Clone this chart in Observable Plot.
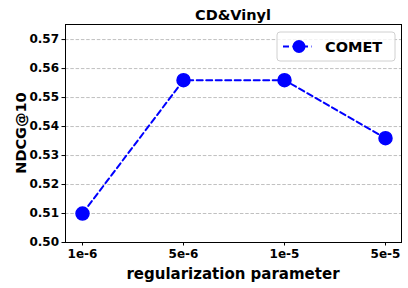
<!DOCTYPE html>
<html>
<head>
<meta charset="utf-8">
<script src="https://cdn.jsdelivr.net/npm/d3@7"></script>
<script src="https://cdn.jsdelivr.net/npm/@observablehq/plot@0.6"></script>
<style>
  html, body { margin: 0; padding: 0; background: #fff; }
  svg { font-family: "DejaVu Sans", sans-serif; }
</style>
</head>
<body>
<div id="chart"></div>
<script>
const categories = ["1e-6", "5e-6", "1e-5", "5e-5"];
const cometValues = [0.510, 0.556, 0.556, 0.536];
const yTicks = [0.50, 0.51, 0.52, 0.53, 0.54, 0.55, 0.56, 0.57];
const seriesName = "COMET";
const title = "CD&Vinyl";
const xLabel = "regularization parameter";
const yLabel = "NDCG@10";

const data = categories.map((c, i) => ({x: c, y: cometValues[i]}));
const blue = "#0000ff";
const W = 408, H = 288, mL = 65, mR = 7, mT = 24, mB = 46;

const chart = Plot.plot({
  width: W, height: H, marginLeft: mL, marginRight: mR, marginTop: mT, marginBottom: mB,
  style: {fontFamily: "DejaVu Sans, sans-serif", fontWeight: "bold", color: "#000", background: "#fff"},
  x: {type: "point", domain: categories, padding: 0.15, label: null},
  y: {domain: [0.50, 0.5752], label: null},
  marks: [
    Plot.gridY(yTicks, {stroke: "#b0b0b0", strokeOpacity: 1, strokeDasharray: "3.5,1.8", strokeWidth: 0.8}),
    Plot.axisY(yTicks, {tickFormat: d3.format(".2f"), tickSize: 3.5, tickPadding: 3, fontSize: 12, fontWeight: "bold", fill: "#000"}),
    Plot.axisX({tickSize: 3.5, tickPadding: 3, fontSize: 12, fontWeight: "bold", fill: "#000"}),
    Plot.line(data, {x: "x", y: "y", stroke: blue, strokeWidth: 2, strokeDasharray: "6,3.5"}),
    Plot.dot(data, {x: "x", y: "y", r: 6.5, fill: blue, stroke: blue}),
    Plot.frame({stroke: "#000", strokeWidth: 1})
  ]
});

const svg = d3.select(chart);
const cx = (mL + (W - mR)) / 2;
const cy = (mT + (H - mB)) / 2;
const labels = svg.append("g").attr("text-anchor", "middle").attr("font-weight", "bold").attr("fill", "#000");
labels.append("text").attr("x", cx).attr("y", 20).attr("font-size", 14.5).text(title);
labels.append("text").attr("x", cx).attr("y", 279).attr("font-size", 15).text(xLabel);
labels.append("text").attr("transform", `translate(26,${cy}) rotate(-90)`).attr("font-size", 14.5).text(yLabel);

// Legend (matplotlib-style box, upper right)
const lg = svg.append("g").attr("transform", `translate(277,32)`).attr("text-anchor", "start");
lg.append("rect").attr("x", 0).attr("y", 0).attr("width", 118).attr("height", 29)
  .attr("rx", 3).attr("fill", "#fff").attr("fill-opacity", 0.8).attr("stroke", "#d0d0d0").attr("stroke-width", 1);
lg.append("line").attr("x1", 6).attr("x2", 35).attr("y1", 14.5).attr("y2", 14.5)
  .attr("stroke", blue).attr("stroke-width", 2).attr("stroke-dasharray", "6,3.5");
lg.append("circle").attr("cx", 22).attr("cy", 14.5).attr("r", 6.5).attr("fill", blue);
lg.append("text").attr("x", 48).attr("y", 14.5).attr("dy", "0.36em").attr("text-anchor", "start")
  .attr("font-size", 14.5).attr("font-weight", "bold").attr("fill", "#000").text(seriesName);

document.getElementById("chart").appendChild(chart);
</script>
</body>
</html>
